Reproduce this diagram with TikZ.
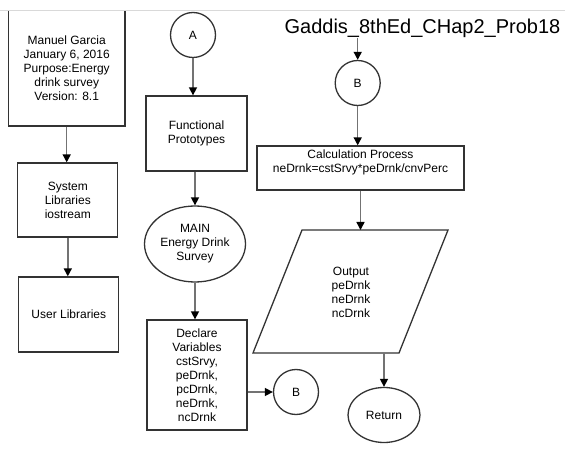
\documentclass[tikz,border=0pt]{standalone}
\usepackage{fontspec}
\setmainfont{Liberation Sans}
\usetikzlibrary{arrows.meta,shapes.geometric}

\tikzset{
  txt/.style={font=\fontsize{12}{14}\selectfont, align=center, inner sep=0pt},
  box/.style={txt, draw=black!80, line width=1.3pt},
  conn/.style={txt, draw=black!80, line width=1.3pt, circle, minimum size=45pt},
  term/.style={txt, draw=black!80, line width=1.3pt, ellipse},
  arr/.style={draw=black!55, line width=1.5pt, -{Triangle[length=8pt,width=8pt,color=black]}}
}

\begin{document}
\begin{tikzpicture}[x=1pt,y=-1pt]
\useasboundingbox (0,0) rectangle (565,454);

% left column
\begin{scope}
\clip (0,11) rectangle (565,454);
\node[box, minimum width=116.7pt, minimum height=116pt] (info) at (66.7,68)
  {Manuel Garcia\\January 6, 2016\\Purpose:Energy\\drink survey\\Version: 8.1};
\end{scope}
\draw[black!15, line width=0.8pt] (0,10.5) -- (565,10.5);
\node[box, minimum width=100pt, minimum height=74pt] (sys) at (67.8,200)
  {System\\Libraries\\iostream};
\node[box, minimum width=100pt, minimum height=75pt] (usr) at (68.8,314.5)
  {User Libraries};

% middle column
\node[conn] (conA) at (193,35) {A};
\node[box, minimum width=101pt, minimum height=75pt] (proto) at (196.5,133.5)
  {Functional\\Prototypes};
\node[term, minimum width=101pt, minimum height=76pt] (main) at (195,244)
  {MAIN\\Energy Drink\\Survey};
\node[box, minimum width=100pt, minimum height=110pt] (decl) at (197,375)
  {Declare\\Variables\\cstSrvy,\\peDrnk,\\pcDrnk,\\neDrnk,\\ncDrnk};
\node[conn] (conBlow) at (296,392) {B};

% right column
\node[inner sep=0pt, font=\fontsize{20}{24}\selectfont, anchor=base] (title) at (422.5,33.5)
  {Gaddis\_8thEd\_CHap2\_Prob18};
\node[conn] (conBtop) at (357.7,83) {B};
\node[box, minimum width=207pt, minimum height=44pt, text depth=14pt] (calc) at (360.5,168)
  {Calculation Process\\neDrnk=cstSrvy*peDrnk/cnvPerc};
\draw[draw=black!80, line width=1.3pt] (253,353) -- (302,230) -- (448,230) -- (399,353) -- cycle;
\node[txt] (out) at (351,292) {Output\\peDrnk\\neDrnk\\ncDrnk};
\coordinate (outT) at (360.5,230);
\coordinate (outB) at (384,353);
\node[term, minimum width=72pt, minimum height=55pt] (ret) at (384,415) {Return};

% arrows
\draw[arr] (info.south) -- (info.south |- sys.north);
\draw[arr] (sys.south) -- (sys.south |- usr.north);
\draw[arr] (conA.south) -- (conA.south |- proto.north);
\draw[arr] (main.north |- proto.south) -- (main.north);
\draw[arr] (main.south) -- (main.south |- decl.north);
\draw[arr] (decl.east |- conBlow.west) -- (conBlow.west);
\draw[arr] (conBtop.north |- title.south) -- (conBtop.north);
\draw[arr] (conBtop.south) -- (conBtop.south |- calc.north);
\draw[arr] (calc.south) -- (outT);
\draw[arr] (outB) -- (ret.north);
\end{tikzpicture}
\end{document}
